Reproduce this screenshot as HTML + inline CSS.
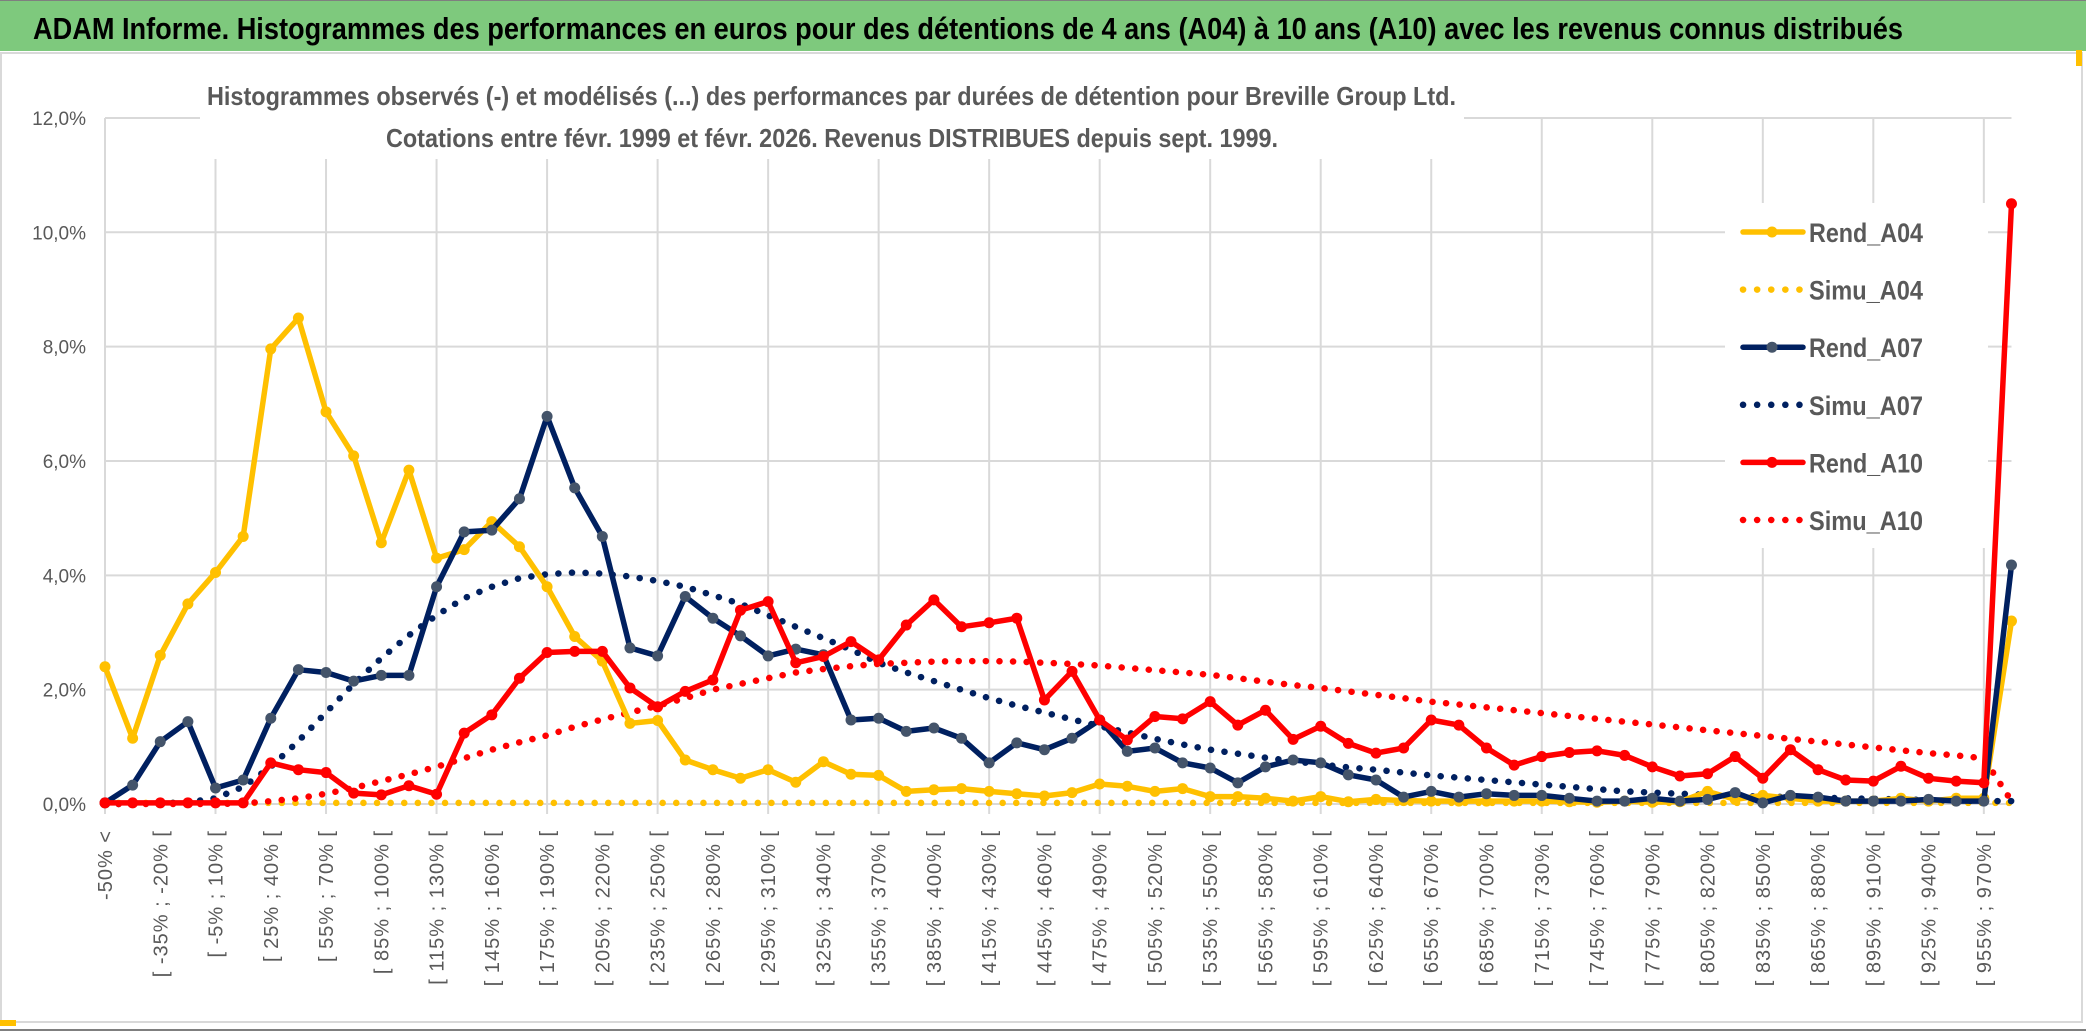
<!DOCTYPE html>
<html><head><meta charset="utf-8"><style>
html,body{margin:0;padding:0;background:#fff;}
svg{display:block;font-family:"Liberation Sans",sans-serif;}
</style></head><body>
<svg id="chart" width="2086" height="1031" viewBox="0 0 2086 1031">
<rect x="0" y="0" width="2086" height="1031" fill="#ffffff"/>
<rect x="0" y="0" width="2086" height="51" fill="#7ec97d"/>
<line x1="0" y1="0.5" x2="2086" y2="0.5" stroke="#7f7f7f" stroke-width="1"/>
<text x="33" y="39" font-size="31" font-weight="bold" fill="#000" textLength="1870" lengthAdjust="spacingAndGlyphs">ADAM Informe. Histogrammes des performances en euros pour des détentions de 4 ans (A04) à 10 ans (A10) avec les revenus connus distribués</text>
<rect x="1" y="53" width="2081" height="969" fill="#fff" stroke="#d9d9d9" stroke-width="2"/>
<line x1="0" y1="1030" x2="2086" y2="1030" stroke="#7f7f7f" stroke-width="2"/>
<rect x="0" y="1020" width="16" height="6" fill="#ffc000"/>
<rect x="2076" y="50" width="6" height="16" fill="#ffc000"/>
<g id="grid"></g>
<g id="yaxis"></g>
<g id="xaxis"></g>
<rect x="200" y="80" width="1264" height="79" fill="#fff"/>
<text x="207" y="105" font-size="26" font-weight="bold" fill="#595959" textLength="1249" lengthAdjust="spacingAndGlyphs">Histogrammes observés (-) et modélisés (...) des performances par durées de détention pour Breville Group Ltd.</text>
<text x="386" y="147" font-size="26" font-weight="bold" fill="#595959" textLength="892" lengthAdjust="spacingAndGlyphs">Cotations entre févr. 1999 et févr. 2026. Revenus DISTRIBUES depuis sept. 1999.</text>
<rect x="1725" y="203" width="263" height="345" fill="#fff"/>
<g id="series"></g>
<g id="legend"></g>
</svg>
<script>
const categoryLows = [];
for (let k = 0; k < 70; k++) categoryLows.push(k === 0 ? null : -50 + 15 * (k - 1));
const yTicks = [0, 2, 4, 6, 8, 10, 12];
const yTickLabels = ["0,0%", "2,0%", "4,0%", "6,0%", "8,0%", "10,0%", "12,0%"];
const rendA04 = [2.4,1.15,2.6,3.5,4.05,4.68,7.96,8.5,6.86,6.09,4.57,5.84,4.3,4.45,4.94,4.5,3.8,2.93,2.5,1.41,1.46,0.77,0.6,0.45,0.6,0.38,0.74,0.52,0.5,0.22,0.25,0.27,0.22,0.18,0.14,0.2,0.35,0.31,0.22,0.27,0.13,0.13,0.1,0.05,0.13,0.04,0.08,0.06,0.05,0.05,0.05,0.05,0.05,0.04,0.03,0.05,0.03,0.04,0.22,0.08,0.15,0.1,0.05,0.05,0.05,0.1,0.05,0.1,0.1,3.2];
const simuA04 = new Array(70).fill(0.02);
const rendA07 = [0.02,0.33,1.09,1.44,0.28,0.42,1.5,2.35,2.3,2.15,2.25,2.25,3.8,4.76,4.79,5.34,6.78,5.53,4.68,2.73,2.59,3.63,3.25,2.94,2.59,2.71,2.61,1.47,1.5,1.27,1.33,1.15,0.72,1.07,0.95,1.15,1.47,0.92,0.98,0.72,0.63,0.37,0.65,0.77,0.72,0.51,0.42,0.12,0.22,0.12,0.18,0.15,0.15,0.1,0.05,0.05,0.1,0.05,0.08,0.2,0.02,0.15,0.12,0.05,0.05,0.05,0.08,0.05,0.05,4.18];
const simuA07 = [0,0,0.01,0.03,0.1,0.3,0.65,1.1,1.6,2.1,2.55,2.95,3.3,3.6,3.8,3.95,4.02,4.05,4.03,3.98,3.9,3.8,3.65,3.5,3.3,3.1,2.9,2.7,2.47,2.3,2.15,2.0,1.85,1.72,1.6,1.48,1.36,1.25,1.14,1.04,0.95,0.88,0.81,0.75,0.69,0.64,0.6,0.55,0.5,0.46,0.42,0.38,0.34,0.3,0.26,0.22,0.2,0.18,0.16,0.14,0.13,0.12,0.11,0.1,0.09,0.08,0.07,0.06,0.05,0.05];
const rendA10 = [0.02,0.02,0.02,0.02,0.02,0.02,0.72,0.6,0.55,0.19,0.16,0.32,0.17,1.24,1.56,2.2,2.65,2.67,2.67,2.03,1.7,1.97,2.17,3.39,3.54,2.47,2.58,2.84,2.52,3.13,3.57,3.1,3.17,3.25,1.82,2.32,1.47,1.12,1.53,1.49,1.79,1.38,1.64,1.13,1.36,1.06,0.89,0.98,1.47,1.38,0.98,0.68,0.83,0.9,0.93,0.85,0.65,0.49,0.53,0.83,0.45,0.95,0.6,0.42,0.4,0.66,0.45,0.4,0.37,10.5];
const simuA10 = [0,0,0,0,0,0.01,0.05,0.1,0.18,0.28,0.4,0.52,0.65,0.8,0.95,1.08,1.2,1.35,1.48,1.6,1.72,1.85,2.0,2.1,2.2,2.3,2.36,2.41,2.45,2.47,2.49,2.5,2.5,2.49,2.47,2.45,2.42,2.38,2.34,2.3,2.26,2.2,2.14,2.08,2.03,1.97,1.91,1.85,1.79,1.74,1.69,1.64,1.59,1.54,1.49,1.44,1.39,1.34,1.29,1.24,1.19,1.14,1.09,1.04,0.99,0.94,0.89,0.85,0.8,0.05];

const NS = "http://www.w3.org/2000/svg";
const X0 = 105, DX = 27.63, Y0 = 804, YPER = 57.17;
function xPos(i){ return X0 + i * DX; }
function yPos(v){ return Y0 - v * YPER; }
function mk(tag, attrs, parent){ const e = document.createElementNS(NS, tag); for (const k in attrs) e.setAttribute(k, attrs[k]); parent.appendChild(e); return e; }
function catLabel(i){ const a = categoryLows[i]; if (a === null) return "-50% <"; return "[ " + a + "% ; " + (a + 15) + "% ["; }

const grid = document.getElementById('grid');
yTicks.forEach(function(t){
  const l = mk('line', {x1: X0, x2: xPos(69), y1: yPos(t), y2: yPos(t), stroke: '#d9d9d9', 'stroke-width': 2}, grid);
  
  
});
for (let i = 0; i < categoryLows.length; i += 4) {
  const l = mk('line', {x1: xPos(i), x2: xPos(i), y1: yPos(12), y2: Y0 + 10, stroke: '#d9d9d9', 'stroke-width': 2}, grid);
  
  
}
const yaxis = document.getElementById('yaxis');
yTicks.forEach(function(t, k){
  const tx = mk('text', {x: 86, y: yPos(t) + 7, 'text-anchor': 'end', 'font-size': 19, fill: '#595959'}, yaxis);
  tx.textContent = yTickLabels[k];
  
  
});
const xaxis = document.getElementById('xaxis');
for (let i = 0; i < categoryLows.length; i += 2) {
  const x = xPos(i) + 7, y = 830;
  const tx = mk('text', {x: x, y: y, 'text-anchor': 'end', 'font-size': 20, fill: '#595959', 'letter-spacing': '1', transform: 'rotate(-90 ' + x + ' ' + y + ')'}, xaxis);
  tx.textContent = catLabel(i);
  
  
}

const series = document.getElementById('series');
function pathOf(arr){ return arr.map(function(v, i){ return (i ? 'L' : 'M') + xPos(i).toFixed(1) + ' ' + yPos(v).toFixed(1); }).join(' '); }
function dotted(arr, color, name){
  const p = mk('path', {d: pathOf(arr), fill: 'none', stroke: color, 'stroke-width': 6.5, 'stroke-linecap': 'round', 'stroke-dasharray': '0.1 13.5'}, series);
  
  
}
function solid(arr, color, markerFill, name){
  const g = mk('g', {}, series);
  
  
  const p = mk('path', {d: pathOf(arr), fill: 'none', stroke: color, 'stroke-width': 5.5, 'stroke-linejoin': 'round'}, g);
  
  
  arr.forEach(function(v, i){
    const c = mk('circle', {cx: xPos(i), cy: yPos(v), r: 5.5, fill: markerFill}, g);
    
    
  });
}
dotted(simuA04, '#ffc000', 'simu-a04-line');
dotted(simuA07, '#002060', 'simu-a07-line');
dotted(simuA10, '#ff0000', 'simu-a10-line');
solid(rendA04, '#ffc000', '#ffc000', 'rend-a04');
solid(rendA07, '#002060', '#44546a', 'rend-a07');
solid(rendA10, '#ff0000', '#ff0000', 'rend-a10');

const legendItems = [
  ['Rend_A04', '#ffc000', '#ffc000', false],
  ['Simu_A04', '#ffc000', null, true],
  ['Rend_A07', '#002060', '#44546a', false],
  ['Simu_A07', '#002060', null, true],
  ['Rend_A10', '#ff0000', '#ff0000', false],
  ['Simu_A10', '#ff0000', null, true]
];
const legend = document.getElementById('legend');
legendItems.forEach(function(it, k){
  const cy = 232 + k * 57.6;
  const g = mk('g', {}, legend);
  
  
  if (it[3]) {
    mk('line', {x1: 1743, x2: 1800, y1: cy, y2: cy, stroke: it[1], 'stroke-width': 6.5, 'stroke-linecap': 'round', 'stroke-dasharray': '0.1 14'}, g);
  } else {
    mk('line', {x1: 1743, x2: 1803, y1: cy, y2: cy, stroke: it[1], 'stroke-width': 5.5, 'stroke-linecap': 'round'}, g);
    mk('circle', {cx: 1772, cy: cy, r: 5.5, fill: it[2]}, g);
  }
  const t = mk('text', {x: 1809, y: cy + 10, 'font-size': 27, 'font-weight': 'bold', fill: '#595959', textLength: 114, lengthAdjust: 'spacingAndGlyphs'}, g);
  t.textContent = it[0];
});
</script>
</body></html>
